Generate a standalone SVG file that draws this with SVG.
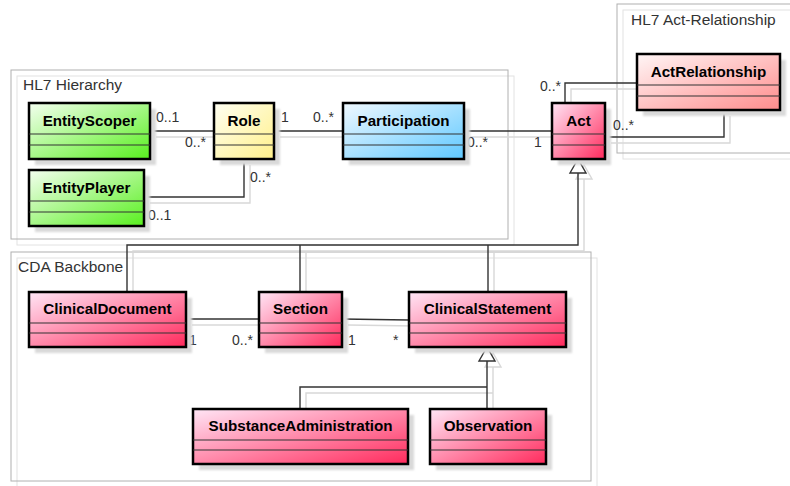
<svg xmlns="http://www.w3.org/2000/svg" width="790" height="486" viewBox="0 0 790 486">
  <style>
    .pkg { fill: none; stroke: #b0b0b0; stroke-width: 1; }
    .pkg-sh { fill: none; stroke: #e2e2e2; stroke-width: 1; }
    .pkg-label { font-family: "Liberation Sans", Arial, sans-serif; font-size: 15.5px; fill: #333; }
    .box { stroke: #000; stroke-width: 2.5; }
    .sep { stroke: #333; stroke-width: 1.2; }
    .shadow { fill: #d9d9d9; filter: url(#soft); }
    .name { font-family: "Liberation Sans", Arial, sans-serif; font-size: 15.2px; font-weight: bold; fill: #000; text-anchor: middle; }
    .mult { font-family: "Liberation Sans", Arial, sans-serif; font-size: 14px; fill: #333; }
    .link { fill: none; stroke: #333; stroke-width: 1.4; }
    .link-sh { fill: none; stroke: #d8d8d8; stroke-width: 1.4; }
    .head { fill: #fff; stroke: #333; stroke-width: 1.4; }
    .head-sh { fill: none; stroke: #d8d8d8; stroke-width: 1.4; }
  </style>
  <defs>
    <filter id="soft" x="-10%" y="-10%" width="120%" height="120%">
      <feGaussianBlur stdDeviation="0.8"/>
    </filter>
    <linearGradient id="gGreen" x1="0" y1="0" x2="1" y2="1">
      <stop offset="0" stop-color="#f4fff0"/>
      <stop offset="1" stop-color="#58ef1e"/>
    </linearGradient>
    <linearGradient id="gYellow" x1="0" y1="0" x2="1" y2="1">
      <stop offset="0" stop-color="#fffff2"/>
      <stop offset="1" stop-color="#fff08a"/>
    </linearGradient>
    <linearGradient id="gBlue" x1="0" y1="0" x2="1" y2="1">
      <stop offset="0" stop-color="#f0f9ff"/>
      <stop offset="1" stop-color="#5fc8ff"/>
    </linearGradient>
    <linearGradient id="gPink" x1="0" y1="0" x2="1" y2="1">
      <stop offset="0" stop-color="#ffe6f6"/>
      <stop offset="1" stop-color="#ff2a5c"/>
    </linearGradient>
    <linearGradient id="gSalmon" x1="0" y1="0" x2="1" y2="1">
      <stop offset="0" stop-color="#fff6f6"/>
      <stop offset="1" stop-color="#ff8c8c"/>
    </linearGradient>
  </defs>

  <rect width="790" height="486" fill="#fff"/>

  <!-- packages -->
  <g id="pkg-hl7-hierarchy">
    <rect class="pkg-sh" x="17" y="76" width="497" height="169"/>
    <rect class="pkg" x="11" y="70" width="497" height="169"/>
    <text class="pkg-label" x="23" y="90">HL7 Hierarchy</text>
  </g>
  <g id="pkg-hl7-act-relationship">
    <rect class="pkg-sh" x="623" y="10" width="200" height="149"/>
    <rect class="pkg" x="617" y="4" width="200" height="149"/>
    <text class="pkg-label" x="631" y="25">HL7 Act-Relationship</text>
  </g>
  <g id="pkg-cda-backbone">
    <rect class="pkg-sh" x="17" y="258" width="580" height="229"/>
    <rect class="pkg" x="11" y="252" width="580" height="229"/>
    <text class="pkg-label" x="18" y="272">CDA Backbone</text>
  </g>

  <!-- connectors -->
  <g id="connectors">
    <g transform="translate(6,6)">
      <path class="link-sh" d="M150,131 H214"/>
      <path class="link-sh" d="M144,197 H244 V159"/>
      <path class="link-sh" d="M274,131 H343"/>
      <path class="link-sh" d="M464,131 H552"/>
      <path class="link-sh" d="M565,103 V83 H637"/>
      <path class="link-sh" d="M605,137 H724 V110"/>
      <path class="link-sh" d="M578,173 V245 H127 V292 M300,245 V292 M488,245 V292"/>
      <path class="link-sh" d="M186,319 H259"/>
      <path class="link-sh" d="M342,319 L409,320"/>
      <path class="link-sh" d="M487,361 V409 M300,409 V387 H487"/>
      <polygon class="head-sh" points="578,159 570,173 586,173"/>
      <polygon class="head-sh" points="487,347 479,361 495,361"/>
    </g>
    <path class="link" d="M150,131 H214"/>
    <path class="link" d="M144,197 H244 V159"/>
    <path class="link" d="M274,131 H343"/>
    <path class="link" d="M464,131 H552"/>
    <path class="link" d="M565,103 V83 H637"/>
    <path class="link" d="M605,137 H724 V110"/>
    <path class="link" d="M578,173 V245 H127 V292 M300,245 V292 M488,245 V292"/>
    <path class="link" d="M186,319 H259"/>
    <path class="link" d="M342,319 L409,320"/>
    <path class="link" d="M487,361 V409 M300,409 V387 H487"/>
    <polygon class="head" points="578,159 570,173 586,173"/>
    <polygon class="head" points="487,347 479,361 495,361"/>

    <!-- multiplicities -->
    <text class="mult" x="156" y="122">0..1</text>
    <text class="mult" x="185" y="147">0..*</text>
    <text class="mult" x="250" y="182">0..*</text>
    <text class="mult" x="148" y="220">0..1</text>
    <text class="mult" x="281" y="122">1</text>
    <text class="mult" x="313" y="122">0..*</text>
    <text class="mult" x="467" y="147">0..*</text>
    <text class="mult" x="534" y="147">1</text>
    <text class="mult" x="540" y="91">0..*</text>
    <text class="mult" x="613" y="130">0..*</text>
    <text class="mult" x="189" y="345">1</text>
    <text class="mult" x="232" y="345">0..*</text>
    <text class="mult" x="348" y="345">1</text>
    <text class="mult" x="393" y="345">*</text>
  </g>

  <!-- classes -->
  <g id="EntityScoper">
    <rect class="shadow" x="35" y="109" width="121" height="56"/>
    <rect class="box" x="29" y="103" width="121" height="56" fill="url(#gGreen)"/>
    <path class="sep" d="M29,134 H150 M29,145 H150"/>
    <text class="name" x="89.5" y="126">EntityScoper</text>
  </g>
  <g id="Role">
    <rect class="shadow" x="220" y="109" width="60" height="56"/>
    <rect class="box" x="214" y="103" width="60" height="56" fill="url(#gYellow)"/>
    <path class="sep" d="M214,134 H274 M214,145 H274"/>
    <text class="name" x="244" y="126">Role</text>
  </g>
  <g id="EntityPlayer">
    <rect class="shadow" x="35" y="176" width="115" height="56"/>
    <rect class="box" x="29" y="170" width="115" height="56" fill="url(#gGreen)"/>
    <path class="sep" d="M29,201 H144 M29,212 H144"/>
    <text class="name" x="86.5" y="193">EntityPlayer</text>
  </g>
  <g id="Participation">
    <rect class="shadow" x="349" y="109" width="121" height="56"/>
    <rect class="box" x="343" y="103" width="121" height="56" fill="url(#gBlue)"/>
    <path class="sep" d="M343,134 H464 M343,145 H464"/>
    <text class="name" x="403.5" y="126">Participation</text>
  </g>
  <g id="Act">
    <rect class="shadow" x="558" y="109" width="53" height="56"/>
    <rect class="box" x="552" y="103" width="53" height="56" fill="url(#gPink)"/>
    <path class="sep" d="M552,134 H605 M552,145 H605"/>
    <text class="name" x="578.5" y="126">Act</text>
  </g>
  <g id="ActRelationship">
    <rect class="shadow" x="643" y="60" width="143" height="56"/>
    <rect class="box" x="637" y="54" width="143" height="56" fill="url(#gSalmon)"/>
    <path class="sep" d="M637,85 H780 M637,96 H780"/>
    <text class="name" x="708.5" y="77">ActRelationship</text>
  </g>
  <g id="ClinicalDocument">
    <rect class="shadow" x="35" y="298" width="157" height="55"/>
    <rect class="box" x="29" y="292" width="157" height="55" fill="url(#gPink)"/>
    <path class="sep" d="M29,323 H186 M29,333 H186"/>
    <text class="name" x="107.5" y="314">ClinicalDocument</text>
  </g>
  <g id="Section">
    <rect class="shadow" x="265" y="298" width="83" height="55"/>
    <rect class="box" x="259" y="292" width="83" height="55" fill="url(#gPink)"/>
    <path class="sep" d="M259,323 H342 M259,333 H342"/>
    <text class="name" x="300.5" y="314">Section</text>
  </g>
  <g id="ClinicalStatement">
    <rect class="shadow" x="415" y="298" width="157" height="55"/>
    <rect class="box" x="409" y="292" width="157" height="55" fill="url(#gPink)"/>
    <path class="sep" d="M409,323 H566 M409,333 H566"/>
    <text class="name" x="487.5" y="314">ClinicalStatement</text>
  </g>
  <g id="SubstanceAdministration">
    <rect class="shadow" x="199" y="415" width="215" height="55"/>
    <rect class="box" x="193" y="409" width="215" height="55" fill="url(#gPink)"/>
    <path class="sep" d="M193,440 H408 M193,450 H408"/>
    <text class="name" x="300.5" y="431">SubstanceAdministration</text>
  </g>
  <g id="Observation">
    <rect class="shadow" x="436" y="415" width="116" height="55"/>
    <rect class="box" x="430" y="409" width="116" height="55" fill="url(#gPink)"/>
    <path class="sep" d="M430,440 H546 M430,450 H546"/>
    <text class="name" x="488" y="431">Observation</text>
  </g>
</svg>
